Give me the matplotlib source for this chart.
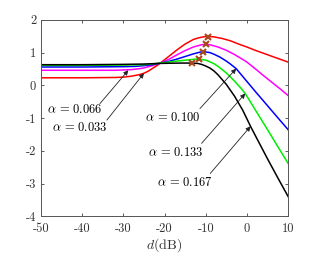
import matplotlib
matplotlib.use('Agg')
from matplotlib import pyplot as plt

plt.rcParams['font.family'] = ['cmr10', 'DejaVu Serif']
plt.rcParams['mathtext.fontset'] = 'cm'

# 数据
d_red = [-50, -40, -32, -30, -28, -26, -25, -24, -23, -22, -21, -20, -19, -18, -17, -16, -15, -14, -13, -12, -11, -10, -9.4, -8, -6, -4, -2, 0, 2, 4, 6, 8, 10]
v_red = [0.23, 0.23, 0.24, 0.25, 0.28, 0.33, 0.37, 0.43, 0.51, 0.59, 0.68, 0.78, 0.88, 0.98, 1.08, 1.17, 1.26, 1.33, 1.40, 1.44, 1.47, 1.49, 1.49, 1.48, 1.43, 1.36, 1.26, 1.17, 1.07, 0.98, 0.89, 0.80, 0.71]

d_mag = [-50, -40, -32, -28, -26, -25, -23, -21, -19, -17, -15, -13, -11, -10, -9, -7, -5, -3, -1, 0, 2, 4, 6, 8, 10]
v_mag = [0.46, 0.46, 0.46, 0.48, 0.51, 0.53, 0.60, 0.68, 0.79, 0.93, 1.06, 1.17, 1.24, 1.25, 1.24, 1.17, 1.07, 0.94, 0.79, 0.71, 0.51, 0.30, 0.10, -0.10, -0.31]

d_blue = [-50, -40, -30, -27, -25, -23, -21, -19, -17, -15, -13, -11.5, -10.6, -9, -8, -6.5, -5, -4, -2.6, -1, 0, 2, 5, 8, 10]
v_blue = [0.56, 0.56, 0.57, 0.58, 0.60, 0.63, 0.68, 0.73, 0.80, 0.88, 0.96, 1.01, 1.03, 1.00, 0.95, 0.86, 0.74, 0.65, 0.51, 0.27, 0.12, -0.18, -0.62, -1.06, -1.35]

d_green = [-50, -40, -30, -25, -21, -17, -14, -12.5, -11.6, -10, -9, -8, -7, -5, -3, -1.5, -0.4, 2, 5, 8, 10]
v_green = [0.61, 0.61, 0.62, 0.63, 0.68, 0.74, 0.78, 0.80, 0.80, 0.77, 0.72, 0.66, 0.58, 0.38, 0.13, -0.08, -0.25, -0.74, -1.35, -1.97, -2.38]

d_black = [-50, -40, -30, -25, -21, -16, -13.4, -12, -11, -10, -9, -8, -7, -5, -3, -1, 1, 3, 5, 7.5, 10]
v_black = [0.63, 0.63, 0.64, 0.65, 0.67, 0.68, 0.68, 0.67, 0.64, 0.59, 0.53, 0.44, 0.32, 0.03, -0.33, -0.76, -1.28, -1.76, -2.24, -2.82, -3.39]

# 峰值标记
peak_d = [-9.4, -10.0, -10.6, -11.6, -13.4]
peak_v = [1.49, 1.25, 1.03, 0.80, 0.68]

# 标注: 文字, 文字位置, 箭头起点, 箭头终点
labels = [r'$\alpha\,=\,0.066$', r'$\alpha\,=\,0.033$', r'$\alpha\,=\,0.100$', r'$\alpha\,=\,0.133$', r'$\alpha\,=\,0.167$']
text_xy = [(-41.7, -0.73), (-40.5, -1.28), (-17.9, -0.98), (-17.2, -2.04), (-15.0, -2.97)]
tail_xy = [(-35.7, -0.56), (-34.0, -1.06), (-11.4, -0.71), (-11.0, -1.77), (-8.9, -2.69)]
tip_xy = [(-28.8, 0.46), (-25.0, 0.37), (-2.6, 0.51), (-0.4, -0.25), (0.9, -1.25)]

xticks = [-50, -40, -30, -20, -10, 0, 10]
yticks = [-4, -3, -2, -1, 0, 1, 2]

fig = plt.figure(figsize=(3.19, 2.54), dpi=100)
ax = fig.add_axes([0.1285, 0.148, 0.7745, 0.774])

ax.plot(d_red, v_red, color='#ff0000', lw=1.1)
ax.plot(d_mag, v_mag, color='#ff00ff', lw=1.1)
ax.plot(d_blue, v_blue, color='#0000ff', lw=1.1)
ax.plot(d_green, v_green, color='#00ee00', lw=1.1)
ax.plot(d_black, v_black, color='#000000', lw=1.1)
ax.plot(peak_d, peak_v, 'x', color='#a8481c', ms=4, mew=1.5, ls='none')

for lab, txy, sxy, exy in zip(labels, text_xy, tail_xy, tip_xy):
    ax.text(txy[0], txy[1], lab, ha='center', va='center', fontsize=9)
    ax.annotate('', xy=exy, xytext=sxy,
                arrowprops=dict(arrowstyle='-|>', color='#222222', lw=0.6,
                                mutation_scale=7, shrinkA=0, shrinkB=0))

ax.set_xlim(-50, 10)
ax.set_ylim(-4, 2)
ax.set_xticks(xticks)
ax.set_xticklabels([str(t) for t in xticks])
ax.set_yticks(yticks)
ax.set_yticklabels([str(t) for t in yticks])
ax.tick_params(direction='in', top=True, right=True, length=2.5, width=0.6,
               labelsize=9, colors='#404040', labelcolor='#333333')
ax.tick_params(axis='x', pad=4.5)
ax.tick_params(axis='y', pad=3.5)
for s in ax.spines.values():
    s.set_linewidth(0.7)
    s.set_color('#555555')
ax.set_xlabel(r'$d$(dB)', fontsize=10, color='#333333', labelpad=1)

fig.savefig('out.png', dpi=100)
